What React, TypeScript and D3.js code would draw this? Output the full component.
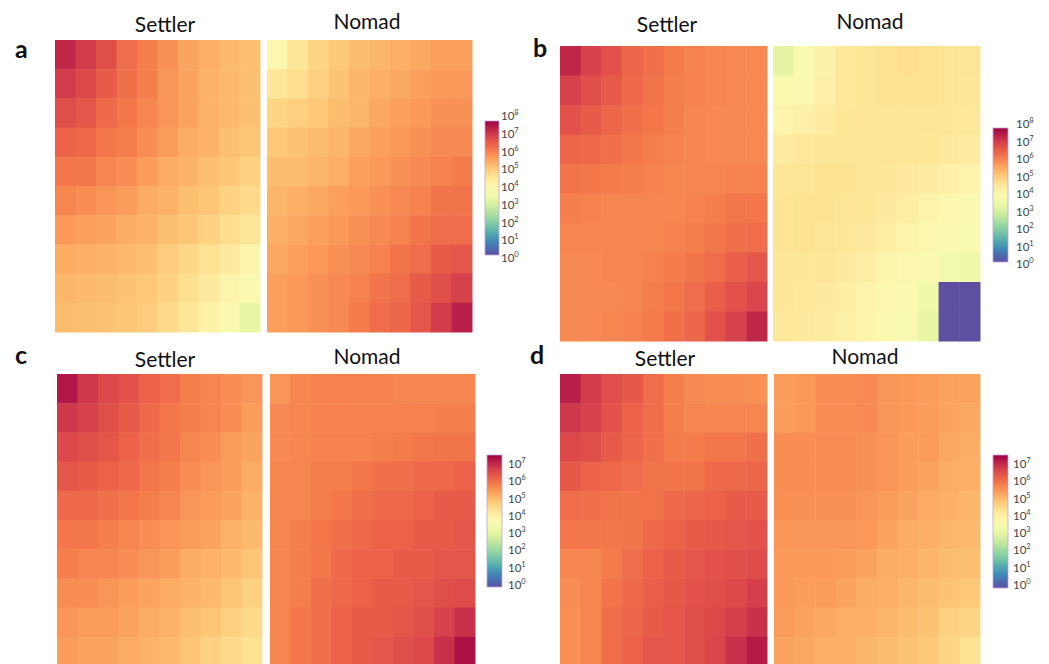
import * as d3 from 'd3';
import { useEffect, useRef } from 'react';

// log10 of counts, rows top -> bottom, columns left -> right
const settlerA = [
  [7.5, 7.2, 6.9, 6.45, 6.2, 5.95, 5.7, 5.55, 5.4, 5.3],
  [7.2, 7.0, 6.7, 6.4, 6.2, 5.9, 5.7, 5.5, 5.4, 5.3],
  [6.9, 6.8, 6.5, 6.3, 6.1, 5.9, 5.7, 5.5, 5.4, 5.3],
  [6.6, 6.5, 6.3, 6.2, 6.0, 5.8, 5.6, 5.5, 5.3, 5.2],
  [6.3, 6.3, 6.1, 6.0, 5.8, 5.6, 5.5, 5.3, 5.2, 5.0],
  [6.1, 6.0, 5.9, 5.8, 5.6, 5.5, 5.3, 5.2, 5.0, 4.85],
  [5.85, 5.75, 5.7, 5.6, 5.5, 5.3, 5.2, 5.0, 4.8, 4.6],
  [5.6, 5.55, 5.5, 5.4, 5.3, 5.1, 4.9, 4.7, 4.5, 4.2],
  [5.45, 5.4, 5.35, 5.25, 5.15, 5.0, 4.75, 4.5, 4.2, 4.0],
  [5.35, 5.3, 5.25, 5.2, 5.1, 4.85, 4.6, 4.3, 3.9, 3.35],
];
const nomadA = [
  [4.1, 4.6, 4.95, 5.15, 5.35, 5.45, 5.55, 5.65, 5.75, 5.75],
  [4.6, 4.75, 5.05, 5.25, 5.45, 5.55, 5.65, 5.75, 5.85, 5.85],
  [4.95, 5.05, 5.15, 5.35, 5.45, 5.65, 5.75, 5.85, 5.95, 5.95],
  [5.15, 5.25, 5.35, 5.45, 5.65, 5.75, 5.85, 5.95, 6.05, 6.05],
  [5.35, 5.35, 5.45, 5.55, 5.75, 5.85, 5.95, 6.05, 6.15, 6.25],
  [5.45, 5.55, 5.65, 5.75, 5.85, 5.95, 6.05, 6.15, 6.35, 6.35],
  [5.55, 5.65, 5.75, 5.85, 5.95, 6.05, 6.15, 6.35, 6.45, 6.45],
  [5.65, 5.75, 5.85, 5.95, 6.05, 6.15, 6.35, 6.45, 6.7, 6.8],
  [5.75, 5.85, 5.95, 6.05, 6.15, 6.35, 6.45, 6.7, 6.9, 7.1],
  [5.75, 5.85, 5.95, 6.05, 6.25, 6.45, 6.55, 6.8, 7.2, 7.6],
];
const settlerB = [
  [7.5, 7.1, 6.85, 6.55, 6.4, 6.25, 6.15, 6.1, 6.05, 6.05],
  [7.1, 6.9, 6.7, 6.5, 6.35, 6.2, 6.15, 6.1, 6.05, 6.05],
  [6.85, 6.7, 6.55, 6.4, 6.3, 6.2, 6.1, 6.05, 6.05, 6.05],
  [6.55, 6.5, 6.4, 6.3, 6.2, 6.15, 6.1, 6.05, 6.05, 6.05],
  [6.35, 6.3, 6.25, 6.2, 6.15, 6.1, 6.1, 6.1, 6.15, 6.15],
  [6.2, 6.15, 6.1, 6.1, 6.1, 6.1, 6.15, 6.2, 6.3, 6.3],
  [6.1, 6.1, 6.1, 6.1, 6.1, 6.15, 6.2, 6.3, 6.4, 6.45],
  [6.05, 6.05, 6.1, 6.1, 6.15, 6.25, 6.35, 6.45, 6.65, 6.8],
  [6.05, 6.05, 6.05, 6.1, 6.2, 6.3, 6.45, 6.65, 6.85, 7.05],
  [6.05, 6.05, 6.1, 6.15, 6.25, 6.4, 6.55, 6.85, 7.1, 7.5],
];
const nomadB = [
  [3.3, 3.9, 4.3, 4.55, 4.65, 4.7, 4.75, 4.7, 4.65, 4.65],
  [3.9, 3.95, 4.35, 4.55, 4.65, 4.7, 4.7, 4.7, 4.65, 4.6],
  [4.2, 4.35, 4.45, 4.6, 4.65, 4.65, 4.65, 4.65, 4.6, 4.55],
  [4.45, 4.55, 4.6, 4.65, 4.65, 4.65, 4.65, 4.6, 4.5, 4.45],
  [4.6, 4.65, 4.7, 4.7, 4.65, 4.6, 4.5, 4.45, 4.35, 4.25],
  [4.65, 4.7, 4.7, 4.65, 4.6, 4.5, 4.4, 4.25, 4.1, 4.0],
  [4.65, 4.7, 4.65, 4.6, 4.5, 4.4, 4.25, 4.05, 3.95, 3.8],
  [4.6, 4.6, 4.6, 4.5, 4.4, 4.2, 4.05, 3.95, 3.65, 3.55],
  [4.6, 4.55, 4.5, 4.4, 4.25, 4.1, 4.0, 3.55, 0, 0],
  [4.55, 4.5, 4.45, 4.35, 4.2, 4.0, 3.85, 3.4, 0, 0],
];
const settlerC = [
  [7.7, 7.25, 7.0, 6.85, 6.6, 6.45, 6.2, 6.1, 6.0, 5.9],
  [7.25, 7.1, 6.9, 6.7, 6.5, 6.3, 6.2, 6.1, 6.0, 5.8],
  [7.0, 6.9, 6.8, 6.6, 6.4, 6.3, 6.1, 6.0, 5.8, 5.7],
  [6.8, 6.7, 6.6, 6.5, 6.3, 6.2, 6.0, 5.9, 5.8, 5.6],
  [6.5, 6.5, 6.4, 6.3, 6.2, 6.1, 5.9, 5.8, 5.7, 5.5],
  [6.3, 6.3, 6.2, 6.1, 6.0, 5.9, 5.8, 5.7, 5.5, 5.4],
  [6.2, 6.1, 6.1, 6.0, 5.9, 5.8, 5.6, 5.5, 5.4, 5.2],
  [6.0, 6.0, 5.9, 5.8, 5.7, 5.6, 5.5, 5.4, 5.2, 5.0],
  [5.9, 5.8, 5.8, 5.7, 5.6, 5.5, 5.3, 5.2, 5.0, 4.85],
  [5.8, 5.7, 5.7, 5.6, 5.5, 5.4, 5.2, 5.0, 4.85, 4.7],
];
const nomadC = [
  [5.9, 6.1, 6.15, 6.15, 6.15, 6.15, 6.1, 6.1, 6.1, 6.1],
  [6.05, 6.1, 6.15, 6.15, 6.15, 6.15, 6.15, 6.15, 6.2, 6.2],
  [6.05, 6.1, 6.15, 6.15, 6.15, 6.2, 6.25, 6.3, 6.35, 6.35],
  [6.1, 6.1, 6.2, 6.2, 6.3, 6.4, 6.4, 6.5, 6.5, 6.6],
  [6.1, 6.1, 6.2, 6.3, 6.4, 6.5, 6.5, 6.6, 6.7, 6.7],
  [6.1, 6.2, 6.3, 6.4, 6.5, 6.6, 6.6, 6.7, 6.7, 6.8],
  [6.1, 6.2, 6.3, 6.5, 6.6, 6.6, 6.7, 6.7, 6.8, 6.8],
  [6.1, 6.2, 6.4, 6.5, 6.6, 6.7, 6.7, 6.8, 6.9, 6.95],
  [6.1, 6.3, 6.4, 6.6, 6.7, 6.7, 6.8, 6.9, 7.1, 7.35],
  [6.1, 6.3, 6.4, 6.6, 6.7, 6.8, 6.9, 7.0, 7.35, 7.8],
];
const settlerD = [
  [7.6, 7.2, 6.9, 6.75, 6.45, 6.2, 6.05, 6.0, 6.0, 5.95],
  [7.25, 7.1, 6.85, 6.6, 6.45, 6.2, 6.1, 6.1, 6.1, 6.1],
  [7.0, 6.9, 6.7, 6.55, 6.4, 6.25, 6.25, 6.3, 6.3, 6.4],
  [6.75, 6.6, 6.5, 6.45, 6.35, 6.35, 6.35, 6.5, 6.5, 6.55],
  [6.45, 6.4, 6.35, 6.35, 6.35, 6.5, 6.55, 6.6, 6.7, 6.7],
  [6.3, 6.3, 6.3, 6.35, 6.5, 6.6, 6.7, 6.75, 6.8, 6.85],
  [6.1, 6.1, 6.25, 6.45, 6.6, 6.7, 6.8, 6.85, 6.9, 6.95],
  [6.0, 6.1, 6.35, 6.5, 6.65, 6.75, 6.85, 6.9, 7.0, 7.15],
  [5.95, 6.1, 6.45, 6.55, 6.7, 6.8, 6.9, 7.0, 7.15, 7.35],
  [5.95, 6.1, 6.45, 6.6, 6.8, 6.8, 6.9, 7.05, 7.35, 7.65],
];
const nomadD = [
  [5.8, 5.85, 6.0, 6.0, 6.05, 5.9, 5.85, 5.8, 5.7, 5.7],
  [5.8, 5.85, 6.0, 6.0, 6.05, 5.9, 5.85, 5.8, 5.7, 5.65],
  [6.0, 6.0, 6.0, 6.0, 5.95, 5.9, 5.8, 5.8, 5.65, 5.6],
  [6.0, 6.0, 6.0, 6.0, 5.95, 5.9, 5.8, 5.7, 5.6, 5.55],
  [5.95, 5.95, 5.95, 5.95, 5.9, 5.8, 5.7, 5.6, 5.55, 5.45],
  [5.9, 5.9, 5.9, 5.9, 5.85, 5.7, 5.6, 5.55, 5.45, 5.4],
  [5.85, 5.85, 5.85, 5.8, 5.7, 5.6, 5.55, 5.45, 5.35, 5.3],
  [5.85, 5.8, 5.8, 5.7, 5.6, 5.55, 5.45, 5.35, 5.25, 5.15],
  [5.8, 5.7, 5.65, 5.55, 5.55, 5.45, 5.35, 5.25, 5.0, 4.95],
  [5.7, 5.65, 5.55, 5.55, 5.45, 5.35, 5.25, 5.15, 4.95, 4.7],
];

const panelLetters = ['a', 'b', 'c', 'd'];
const groupTitles = ['Settler', 'Nomad'];
const ticksAB = [0, 1, 2, 3, 4, 5, 6, 7, 8];
const ticksCD = [0, 1, 2, 3, 4, 5, 6, 7];
const colorMax = 8;

export default function App() {
  const ref = useRef<SVGSVGElement>(null);

  useEffect(() => {
    const svg = d3.select(ref.current);
    svg.selectAll('*').remove();

    const font = 'Lato, "Open Sans", sans-serif';
    const color = d3
      .scaleSequential((t: number) => d3.interpolateSpectral(1 - t))
      .domain([0, colorMax]);

    // layout of each panel
    const panels = [
      {
        letter: panelLetters[0], lx: 15, ly: 58,
        grids: [settlerA, nomadA],
        boxes: [[55, 260, 40, 332], [267, 472, 40, 332]],
        titles: [[165, 32], [367, 29]],
        bar: [485, 499, 121, 255], labelX: 501, tick: [116, 258], ticks: ticksAB,
      },
      {
        letter: panelLetters[1], lx: 533, ly: 57,
        grids: [settlerB, nomadB],
        boxes: [[560, 767, 46, 341], [773, 980, 46, 341]],
        titles: [[667, 32], [870, 29]],
        bar: [993, 1008, 128, 262], labelX: 1016, tick: [124, 264], ticks: ticksAB,
      },
      {
        letter: panelLetters[2], lx: 15, ly: 364,
        grids: [settlerC, nomadC],
        boxes: [[57, 262, 374, 666], [270, 475, 374, 666]],
        titles: [[165, 367], [367, 364]],
        bar: [487, 502, 455, 587], labelX: 508, tick: [464, 585], ticks: ticksCD,
      },
      {
        letter: panelLetters[3], lx: 530, ly: 364,
        grids: [settlerD, nomadD],
        boxes: [[560, 767, 374, 666], [774, 980, 374, 666]],
        titles: [[665, 366], [865, 364]],
        bar: [993, 1008, 455, 588], labelX: 1013, tick: [464, 585], ticks: ticksCD,
      },
    ];

    // shared gradient for the colour bars
    const defs = svg.append('defs');
    const grad = defs
      .append('linearGradient')
      .attr('id', 'cbar')
      .attr('x1', 0).attr('y1', 1).attr('x2', 0).attr('y2', 0);
    d3.range(0, 1.0001, 0.05).forEach(t => {
      grad.append('stop')
        .attr('offset', t)
        .attr('stop-color', color(t * colorMax));
    });

    panels.forEach(p => {
      const g = svg.append('g');

      g.append('text')
        .attr('x', p.lx)
        .attr('y', p.ly)
        .attr('font-family', font)
        .attr('font-weight', 700)
        .attr('font-size', 25)
        .attr('fill', '#111')
        .text(p.letter);

      p.grids.forEach((grid, gi) => {
        const [x0, x1, y0, y1] = p.boxes[gi];
        const xScale = d3.scaleBand<number>().domain(d3.range(10)).range([x0, x1]);
        const yScale = d3.scaleBand<number>().domain(d3.range(10)).range([y0, y1]);

        const cells = grid.flatMap((row, r) => row.map((v, c) => ({ r, c, v })));
        g.append('g')
          .selectAll('rect')
          .data(cells)
          .join('rect')
          .attr('x', d => xScale(d.c)!)
          .attr('y', d => yScale(d.r)!)
          .attr('width', xScale.bandwidth() + 0.5)
          .attr('height', yScale.bandwidth() + 0.5)
          .attr('fill', d => color(d.v));

        g.append('text')
          .attr('x', p.titles[gi][0])
          .attr('y', p.titles[gi][1])
          .attr('text-anchor', 'middle')
          .attr('font-family', font)
          .attr('font-size', 21)
          .attr('fill', '#111')
          .text(groupTitles[gi]);
      });

      const [bx0, bx1, by0, by1] = p.bar;
      g.append('rect')
        .attr('x', bx0)
        .attr('y', by0)
        .attr('width', bx1 - bx0)
        .attr('height', by1 - by0)
        .attr('fill', 'url(#cbar)')
        .attr('stroke', '#b9a6d6')
        .attr('stroke-width', 0.8);

      const tickScale = d3
        .scaleLinear()
        .domain([0, p.ticks[p.ticks.length - 1]])
        .range([p.tick[1], p.tick[0]]);

      const labels = g.append('g')
        .selectAll('text')
        .data(p.ticks)
        .join('text')
        .attr('x', p.labelX)
        .attr('y', d => tickScale(d) + 4)
        .attr('font-family', font)
        .attr('font-size', 11.5)
        .attr('fill', '#444');
      labels.append('tspan').text('10');
      labels.append('tspan')
        .attr('font-size', 7.5)
        .attr('dy', -5)
        .text(d => String(d));
    });
  }, []);

  return (
    <div style={{ position: 'absolute', left: 0, top: 0, width: 1049, height: 664, background: '#fff' }}>
      <svg ref={ref} width={1049} height={664} style={{ display: 'block' }} />
    </div>
  );
}
